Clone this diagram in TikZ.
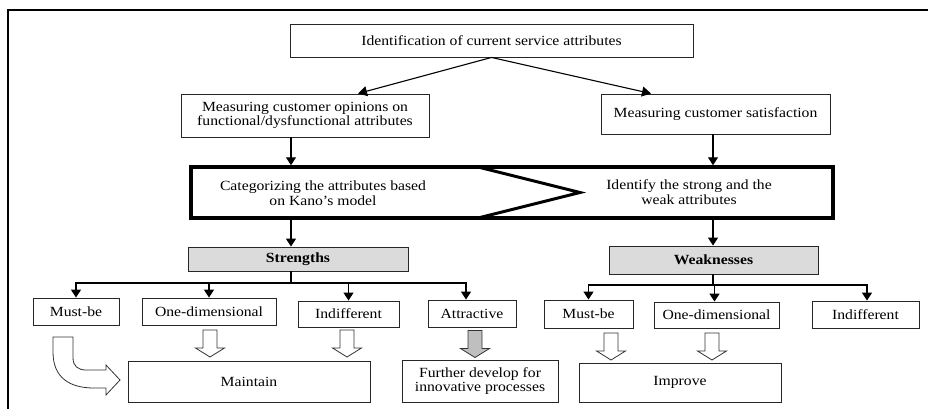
\documentclass[tikz,border=0pt]{standalone}
\usepackage{fontspec}
\setmainfont{Liberation Serif}[FakeStretch=1.12]
\usetikzlibrary{arrows.meta}
\newcommand\fsz{\fontsize{14}{14.5}\selectfont}
\tikzset{
  bx/.style={draw=black!85, line width=0.9pt, fill=white, align=center, inner sep=0pt, font=\fsz},
  txt/.style={align=center, inner sep=0pt, font=\fsz},
  arr/.style={line width=1.4pt, -{Triangle[length=8pt,width=10pt]}},
  arrthin/.style={line width=1.1pt, -{Triangle[length=9pt,width=10pt]}},
  ln/.style={line width=1.4pt},
  pics/harrow/.style={code={
    \draw[line width=0.8pt, draw=black!80, fill=#1]
      (-7,0) -- (7,0) -- (7,18) -- (14.5,18) -- (0,27) -- (-14.5,18) -- (-7,18) -- cycle;}},
  pics/harrow/.default=white,
}
\begin{document}
\begin{tikzpicture}[x=1pt,y=-1pt]
\useasboundingbox (0,0) rectangle (928,409);
\draw[line width=1.6pt] (8,412) -- (8,10) -- (931,10);

\node[bx, minimum width=403pt, minimum height=33pt] (top) at (491.5,40.5) {Identification of current service attributes};
\node[bx, minimum width=248pt, minimum height=43pt] (opin) at (305,115.5) {Measuring customer opinions on\\functional/dysfunctional attributes};
\node[bx, minimum width=229pt, minimum height=40pt] (sat) at (715.5,114) {Measuring customer satisfaction};

\node[draw, line width=3.5pt, minimum width=642pt, minimum height=51pt, inner sep=0pt] (kano) at (512,192.5) {};
\draw[line width=3pt] (478,167) -- (580,192.5) -- (478,218);
\node[txt] (cat) at (323,193) {Categorizing the attributes based\\on Kano’s model};
\node[txt] (ident) at (689,192) {Identify the strong and the\\weak attributes};

\draw[arrthin] (top.south) -- ([xshift=53pt]opin.north);
\draw[arrthin] (top.south) -- ([xshift=-64.5pt]sat.north);

\coordinate (cL) at (291,0);
\coordinate (cR) at (713,0);
\draw[arr] (opin.south -| cL) -- (kano.north -| cL);
\draw[arr] (sat.south -| cR) -- (kano.north -| cR);

\node[bx, fill=black!14, font=\fsz\bfseries, minimum width=220pt, minimum height=24pt] (str) at (298,259) {Strengths};
\node[bx, fill=black!14, font=\fsz\bfseries, minimum width=209pt, minimum height=28pt] (wk) at (713.5,260) {Weaknesses};
\draw[arr] (kano.south -| cL) -- (str.north -| cL);
\draw[arr] (kano.south -| cR) -- (wk.north -| cR);

% left row
\node[bx, minimum width=86pt, minimum height=27pt] (mb1) at (76,311.5) {Must-be};
\node[bx, minimum width=134pt, minimum height=27pt] (od1) at (209,311.5) {One-dimensional};
\node[bx, minimum width=101pt, minimum height=26pt] (in1) at (348.5,314) {Indifferent};
\node[bx, minimum width=88pt, minimum height=27pt] (at1) at (472,313.5) {Attractive};

\coordinate (bL) at (291,283);
\draw[ln] (str.south -| cL) -- (bL);
\draw[arr] (bL) -| (mb1.north);
\draw[arr] (bL) -| (od1.north);
\draw[arr] (bL) -| (in1.north);
\draw[arr] (bL) -| ([xshift=-6pt]at1.north);

% right row
\node[bx, minimum width=89pt, minimum height=28pt] (mb2) at (588.5,314) {Must-be};
\node[bx, minimum width=125pt, minimum height=26pt] (od2) at (716.5,315) {One-dimensional};
\node[bx, minimum width=107pt, minimum height=27pt] (in2) at (865.5,314.5) {Indifferent};

\coordinate (bR) at (713,285);
\draw[ln] (wk.south -| cR) -- (bR);
\draw[arr] (bR) -| (mb2.north);
\draw[arr] (bR) -| ([xshift=-2pt]od2.north);
\draw[arr] (bR) -| ([xshift=1.5pt]in2.north);

% bottom boxes
\node[bx, minimum width=242pt, minimum height=41pt] (maint) at (249,381.5) {Maintain};
\node[bx, minimum width=156pt, minimum height=42pt] (fur) at (480,381) {Further develop for\\innovative processes};
\node[bx, minimum width=202pt, minimum height=39pt] (imp) at (680,382.5) {Improve};

% hollow arrows
\pic at (210,330) {harrow};
\pic at (347,330) {harrow};
\pic at (475,330.5) {harrow=black!25};
\pic at (611,333) {harrow};
\pic at (712,333) {harrow};

% curved arrow from Must-be to Maintain
\draw[line width=0.8pt, draw=black!80, fill=white]
  (53,337) -- (53,352) .. controls (53,378) and (70,388) .. (94,388)
  -- (106,388) -- (106,395) -- (120,380) -- (106,365) -- (106,370)
  -- (86,370) .. controls (78,370) and (73,366) .. (73,358) -- (73,337) -- cycle;
\end{tikzpicture}
\end{document}
